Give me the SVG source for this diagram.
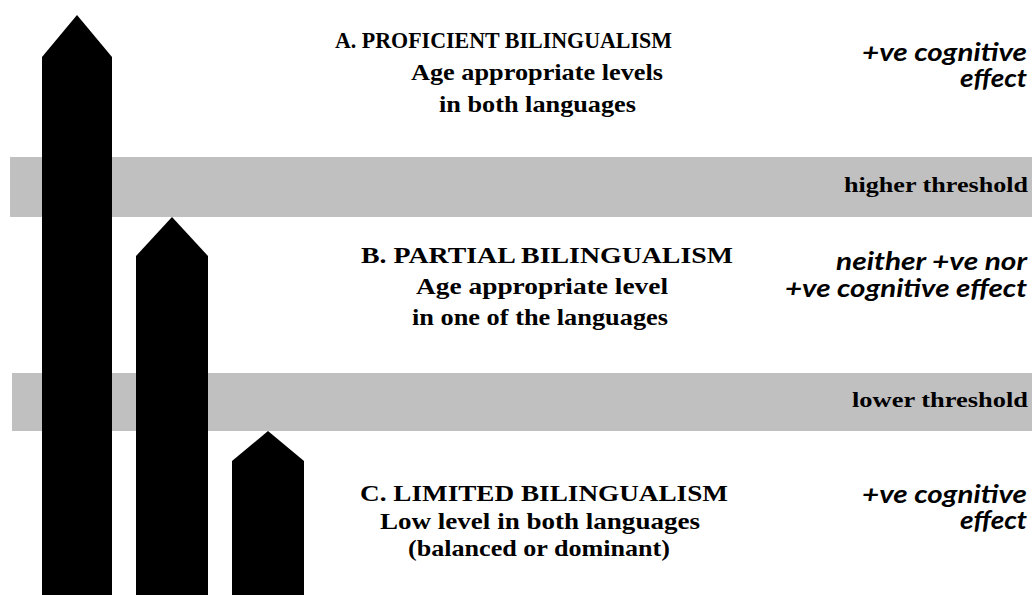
<svg xmlns="http://www.w3.org/2000/svg" width="1032" height="595" viewBox="0 0 1032 595">
<defs>
<style>
.band{fill:#c0c0c0;}
.arrow{fill:#000000;}
.t{font-family:"Liberation Serif","Times New Roman",serif;font-weight:bold;font-size:24px;fill:#000;}
.th{font-family:"Liberation Serif","Times New Roman",serif;font-weight:bold;font-size:22px;fill:#000;}
.e{font-family:Lato,"Open Sans","Liberation Sans",sans-serif;font-weight:bold;font-style:italic;font-size:24px;fill:#000;}
</style>
</defs>
<rect width="1032" height="595" fill="#ffffff"/>
<g id="thresholds">
<g id="higher-threshold">
<rect class="band" x="10" y="157" width="1022" height="60"/>
<text class="th" x="844" y="192" textLength="184" lengthAdjust="spacingAndGlyphs">higher threshold</text>
</g>
<g id="lower-threshold">
<rect class="band" x="12" y="373" width="1020" height="58"/>
<text class="th" x="852" y="407" textLength="176" lengthAdjust="spacingAndGlyphs">lower threshold</text>
</g>
</g>
<g id="arrows">
<polygon id="arrow-a" class="arrow" points="42,595 42,57 77,15 112,57 112,595"/>
<polygon id="arrow-b" class="arrow" points="136,595 136,256 172,217 208,256 208,595"/>
<polygon id="arrow-c" class="arrow" points="232,595 232,461 268,431 304,461 304,595"/>
</g>
<g id="level-a">
<text class="t" x="335" y="48" textLength="337" lengthAdjust="spacingAndGlyphs">A.   PROFICIENT  BILINGUALISM</text>
<text class="t" x="411" y="80" textLength="252" lengthAdjust="spacingAndGlyphs">Age appropriate  levels</text>
<text class="t" x="439" y="112" textLength="197" lengthAdjust="spacingAndGlyphs">in both  languages</text>
<text class="e" x="862" y="61" textLength="165" lengthAdjust="spacingAndGlyphs">+ve cognitive</text>
<text class="e" x="960" y="87" textLength="67" lengthAdjust="spacingAndGlyphs">effect</text>
</g>
<g id="level-b">
<text class="t" x="361" y="263" textLength="372" lengthAdjust="spacingAndGlyphs">B.   PARTIAL  BILINGUALISM</text>
<text class="t" x="416" y="294" textLength="252" lengthAdjust="spacingAndGlyphs">Age appropriate  level</text>
<text class="t" x="412" y="325" textLength="256" lengthAdjust="spacingAndGlyphs">in one  of the languages</text>
<text class="e" x="836" y="270" textLength="191" lengthAdjust="spacingAndGlyphs">neither +ve nor</text>
<text class="e" x="785" y="297" textLength="242" lengthAdjust="spacingAndGlyphs">+ve cognitive effect</text>
</g>
<g id="level-c">
<text class="t" x="360" y="501" textLength="368" lengthAdjust="spacingAndGlyphs">C.   LIMITED  BILINGUALISM</text>
<text class="t" x="380" y="529" textLength="320" lengthAdjust="spacingAndGlyphs">Low level in both  languages</text>
<text class="t" x="408" y="556" textLength="262" lengthAdjust="spacingAndGlyphs">(balanced  or dominant)</text>
<text class="e" x="862" y="503" textLength="165" lengthAdjust="spacingAndGlyphs">+ve cognitive</text>
<text class="e" x="960" y="529" textLength="67" lengthAdjust="spacingAndGlyphs">effect</text>
</g>
</svg>
